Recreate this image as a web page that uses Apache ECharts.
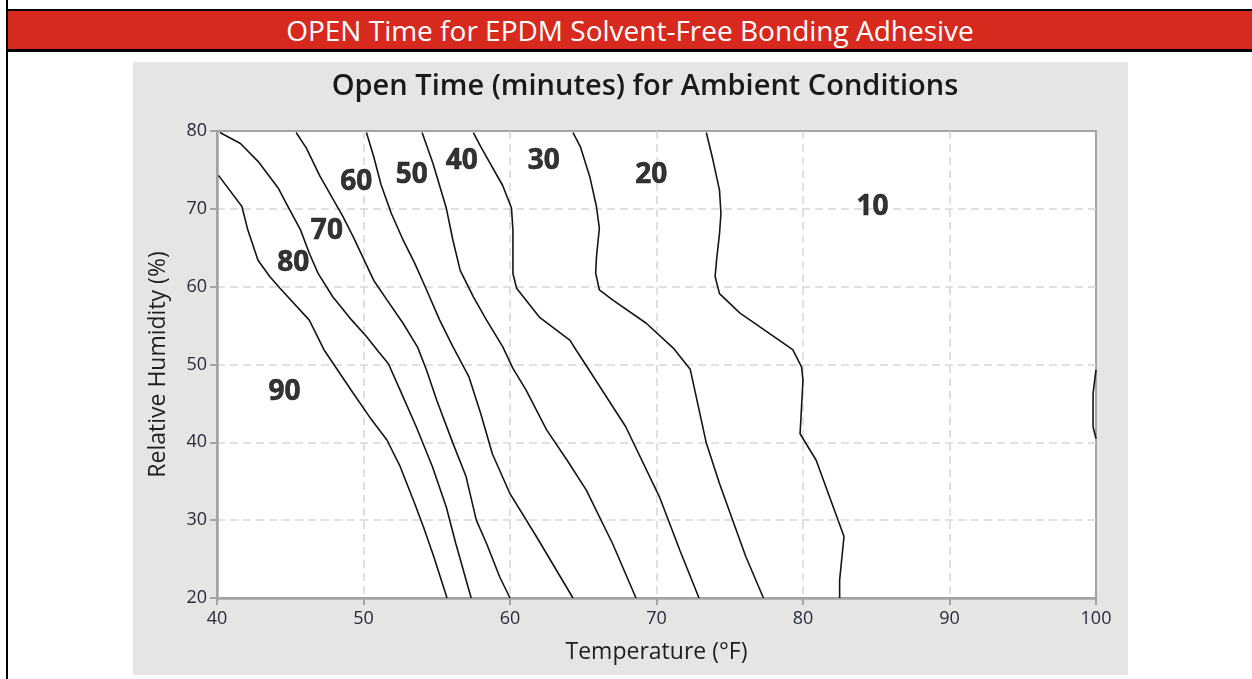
<!DOCTYPE html>
<html>
<head>
<meta charset="utf-8">
<script src="https://cdn.jsdelivr.net/npm/echarts@6/dist/echarts.min.js"></script>
<style>
  html, body { margin: 0; padding: 0; background: #fff; width: 1252px; height: 679px; overflow: hidden; }
  #frame { position: absolute; left: 6px; top: 0; width: 2px; height: 679px; background: #000; }
  #header {
    position: absolute; left: 6px; top: 9px; width: 1300px; height: 38px;
    border-top: 2px solid #000; border-bottom: 3px solid #000; border-left: 2px solid #000;
    background: #d8291f;
  }
  #header span {
    position: absolute; left: 0; width: 1244px; top: 0; height: 38px; line-height: 38px;
    text-align: center; color: #fff; font-family: "Open Sans", sans-serif; font-size: 28px;
  }
  #chart { position: absolute; left: 133px; top: 62px; width: 995px; height: 613px; }
</style>
</head>
<body>
<div id="frame"></div>
<div id="header"><span>OPEN Time for EPDM Solvent-Free Bonding Adhesive</span></div>
<div id="chart"></div>
<script>
// Contour lines, [temperature °F, relative humidity %]
const line_90_80 = [[40.1, 74.3], [41.7, 70.3], [42.1, 67.3], [42.8, 63.4], [43.6, 61.3], [44.3, 59.8], [46.3, 55.7], [47.3, 51.9], [49.3, 46.3], [50.4, 43.3], [51.6, 40.3], [52.5, 36.9], [53.5, 32.1], [54.1, 29.1], [54.8, 25.3], [55.7, 20]];
const line_80_70 = [[40.2, 79.8], [41.6, 78.4], [42.8, 76.1], [44.2, 72.6], [44.9, 70.1], [45.7, 67.3], [46.3, 64.3], [46.9, 61.7], [47.9, 58.7], [49.2, 55.7], [50.2, 53.6], [51.0, 51.7], [51.7, 50.1], [52.5, 46.7], [53.6, 42.0], [54.7, 36.9], [55.65, 31.7], [56.3, 27.0], [57.35, 20]];
const line_70_60 = [[45.4, 79.8], [46.1, 77.8], [47.0, 74.3], [47.9, 71.3], [48.6, 69.0], [49.3, 66.4], [50.0, 63.6], [50.7, 60.8], [51.6, 58.3], [52.7, 55.3], [53.7, 52.2], [54.3, 49.3], [55.0, 45.4], [56.1, 39.9], [57.0, 35.6], [57.7, 30.0], [58.4, 27.0], [59.3, 22.7], [60.0, 20]];
const line_60_50 = [[50.2, 79.8], [50.7, 76.7], [51.2, 73.1], [51.9, 69.4], [52.7, 66.0], [53.5, 63.0], [54.3, 59.6], [55.2, 55.7], [56.1, 52.3], [57.2, 48.4], [58.0, 43.7], [58.8, 38.5], [60.0, 33.4], [61.8, 27.9], [64.3, 20]];
const line_50_40 = [[54.0, 79.8], [54.75, 75.8], [55.65, 70.1], [56.1, 66.0], [56.6, 62.1], [57.5, 58.7], [58.4, 55.7], [59.5, 52.3], [60.2, 49.5], [61.1, 46.7], [62.5, 41.6], [63.9, 37.7], [65.2, 33.9], [67.0, 27.0], [68.6, 20]];
const line_40_30 = [[57.5, 79.8], [58.0, 78.0], [59.5, 73.0], [60.1, 70.1], [60.2, 67.3], [60.2, 61.7], [60.45, 59.8], [62.0, 56.1], [64.1, 53.1], [64.5, 51.9], [65.4, 49.3], [67.9, 42.0], [70.2, 33.0], [71.6, 26.1], [72.9, 20]];
const line_30_20 = [[64.3, 79.8], [64.8, 78.0], [65.45, 74.1], [65.9, 70.3], [66.1, 67.5], [65.9, 63.8], [65.85, 61.7], [66.1, 59.6], [67.0, 58.3], [69.3, 55.3], [71.2, 52.0], [72.3, 49.4], [73.4, 39.9], [74.3, 34.7], [75.2, 30.0], [76.1, 25.3], [77.3, 20]];
const line_20_10 = [[73.4, 79.8], [73.85, 76.3], [74.3, 72.4], [74.4, 69.4], [74.3, 66.8], [74.1, 63.4], [74.0, 61.3], [74.3, 59.1], [75.7, 56.6], [77.7, 54.0], [79.3, 51.9], [79.9, 49.7], [80.0, 48.0], [79.8, 41.1], [80.9, 37.7], [82.8, 27.9], [82.5, 22.3], [82.5, 20]];
const line_10_edge = [[100, 49.3], [99.8, 46.3], [99.8, 42.0], [100, 40.5]];

// Region labels (open time, minutes) and where they sit
const labelText = ['90', '80', '70', '60', '50', '40', '30', '20', '10'];
const labelTemp = [44.6, 45.2, 47.5, 49.5, 53.3, 56.7, 62.3, 69.65, 84.75];
const labelRH = [46.5, 63.0, 67.2, 73.4, 74.3, 76.1, 76.2, 74.3, 70.2];

const chartTitle = 'Open Time (minutes) for Ambient Conditions';
const xName = 'Temperature (°F)';
const yName = 'Relative Humidity (%)';

const chart = echarts.init(document.getElementById('chart'));

const contours = [line_90_80, line_80_70, line_70_60, line_60_50, line_50_40,
                  line_40_30, line_30_20, line_20_10, line_10_edge];

const series = contours.map(pts => ({
    type: 'line',
    data: pts,
    symbol: 'none',
    smooth: false,
    silent: true,
    lineStyle: { color: '#151515', width: 1.6 },
}));

// region labels
series.push({
    type: 'scatter',
    symbolSize: 0,
    silent: true,
    data: labelText.map((t, i) => [labelTemp[i], labelRH[i], t]),
    label: {
        show: true,
        position: 'inside',
        formatter: p => p.value[2],
        fontFamily: 'Open Sans',
        fontWeight: 'bold',
        fontSize: 28,
        color: '#000',
        textBorderColor: '#000',
        textBorderWidth: 0.6,
    },
});

const axisLabelStyle = { color: '#262b36', fontFamily: 'Open Sans', fontSize: 18 };
const gridLine = {
    show: true,
    showMinLine: false,
    showMaxLine: false,
    lineStyle: { color: '#d6d6d6', type: [8, 5], width: 1.5 },
};

chart.setOption({
    backgroundColor: '#e5e5e5',
    animation: false,
    graphic: [{
        type: 'text',
        x: 512,
        y: 25,
        style: {
            text: chartTitle,
            fill: '#1a1a1a',
            font: '600 29px "Open Sans"',
            textAlign: 'center',
            textVerticalAlign: 'middle',
        },
    }],
    grid: {
        left: 84, right: 32, top: 69, bottom: 77,
        show: true,
        backgroundColor: '#fff',
        borderColor: '#a3a3a3',
        borderWidth: 2,
    },
    xAxis: {
        type: 'value',
        min: 40, max: 100, interval: 10,
        name: xName,
        nameLocation: 'middle',
        nameGap: 43,
        nameTextStyle: { color: '#1f1f1f', fontFamily: 'Open Sans', fontSize: 23 },
        axisLine: { lineStyle: { color: '#a3a3a3', width: 2.5 } },
        axisTick: { length: 7, lineStyle: { color: '#a3a3a3', width: 2 } },
        axisLabel: Object.assign({ margin: 12 }, axisLabelStyle),
        splitLine: gridLine,
    },
    yAxis: {
        type: 'value',
        min: 20, max: 80, interval: 10,
        name: yName,
        nameLocation: 'middle',
        nameGap: 47,
        nameTextStyle: { color: '#1f1f1f', fontFamily: 'Open Sans', fontSize: 23 },
        axisLine: { show: true, lineStyle: { color: '#a3a3a3', width: 2.5 } },
        axisTick: { show: true, length: 7, lineStyle: { color: '#a3a3a3', width: 2 } },
        axisLabel: Object.assign({ margin: 10 }, axisLabelStyle),
        splitLine: gridLine,
    },
    series,
});
</script>
</body>
</html>
